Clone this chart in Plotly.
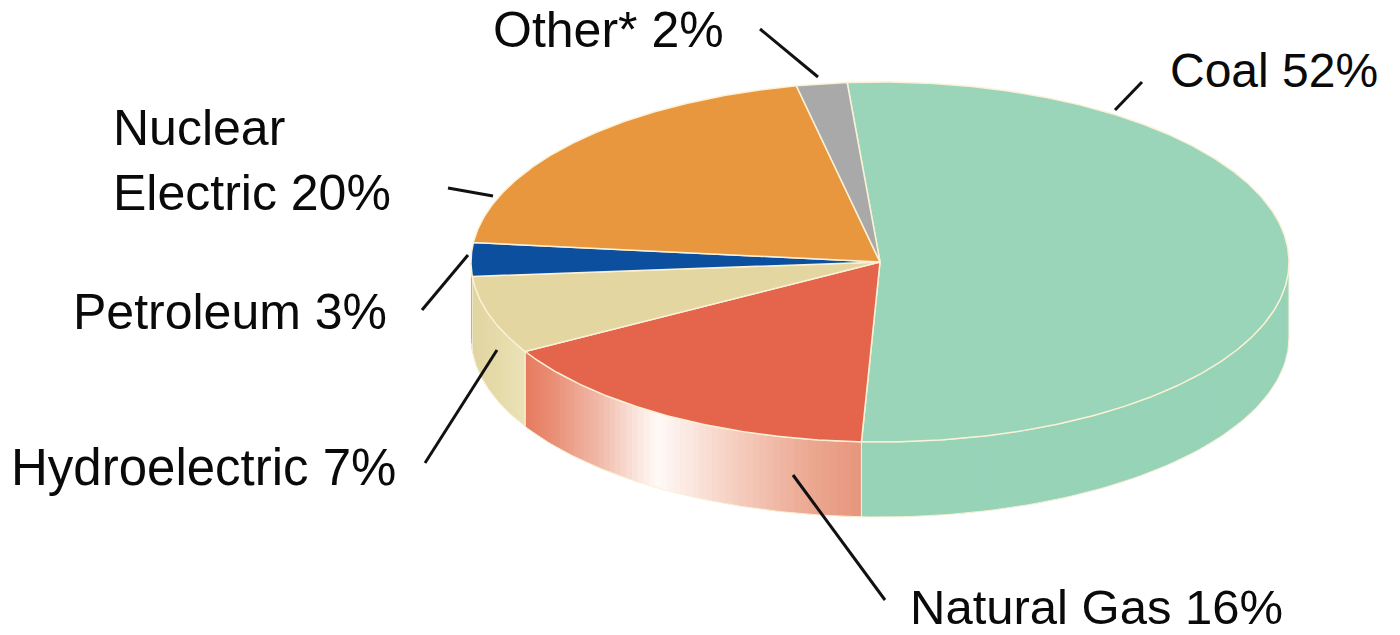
import numpy as np
import plotly.graph_objects as go

# U.S. electricity generation by energy source (percent of total)
sources = ["Coal", "Natural Gas", "Hydroelectric", "Petroleum", "Nuclear<br>Electric", "Other*"]
shares = [52, 16, 7, 3, 20, 2]
top_colors = ["#9bd5b9", "#e4654b", "#e3d6a0", "#0c4f9f", "#e9973f", "#a9a9a9"]

# side-wall shading stops (fraction along the visible wall, rgb)
side_shading = [
    [(0.0, (151, 211, 183)), (1.0, (151, 211, 183))],
    [(0.0, (230, 122, 95)), (0.12, (233, 140, 115)), (0.3, (240, 185, 168)),
     (0.48, (255, 250, 247)), (0.7, (245, 205, 190)), (0.88, (236, 168, 146)),
     (1.0, (232, 150, 126))],
    [(0.0, (224, 212, 158)), (0.7, (229, 219, 170)), (1.0, (234, 226, 184))],
    [(0.0, (12, 79, 159)), (1.0, (12, 79, 159))],
    [(0.0, (233, 151, 63)), (1.0, (233, 151, 63))],
    [(0.0, (169, 169, 169)), (1.0, (169, 169, 169))],
]

# label placement (left edge, vertical centre) and leader lines (x0, y0, x1, y1)
label_pos = [(1168, 70), (908, 607), (9, 467), (71, 312), (111, 160), (491, 30)]
label_size = [48, 49, 51, 50, 50, 50]
leaders = [(1142, 82, 1115, 110), (885, 600, 793, 475), (425, 463, 497, 350),
           (422, 310, 468, 255), (448, 188, 493, 196), (760, 29, 818, 77)]

# projected pie geometry
CX, CY, RX, RY, DEPTH = 880, 262, 409, 180, 75
START = 94.6          # angle of the first slice edge, degrees (math convention)
EDGE = "#fbf1d6"


def rim(t_deg, drop=0.0):
    t = np.radians(t_deg)
    return CX + RX * np.cos(t), CY - RY * np.sin(t) + drop


def shade(stops, f):
    for (f0, c0), (f1, c1) in zip(stops[:-1], stops[1:]):
        if f <= f1:
            k = 0 if f1 == f0 else (f - f0) / (f1 - f0)
            return "rgb(%d,%d,%d)" % tuple(round(a + (b - a) * k) for a, b in zip(c0, c1))
    return "rgb(%d,%d,%d)" % stops[-1][1]


fig = go.Figure()

bounds = START - 3.6 * np.concatenate([[0], np.cumsum(shares)])
spans = [(bounds[i + 1], bounds[i]) for i in range(len(shares))]

# side walls (front half of the disc only)
for i, (a, b) in enumerate(spans):
    for lo, hi in [(-540, -360), (-180, 0), (180, 360)]:
        s, e = max(a, lo), min(b, hi)
        if e - s <= 0.01:
            continue
        n = max(2, int((e - s) / 1.0))
        cuts = np.linspace(s, e, n + 1)
        for j in range(n):
            t0, t1 = cuts[j], cuts[j + 1]
            ts = np.linspace(max(s, t0 - 0.4), min(e, t1 + 0.4), 6)
            xt, yt = rim(ts)
            xb, yb = rim(ts[::-1], DEPTH)
            f = ((t0 + t1) / 2 - s) / (e - s)
            fig.add_trace(go.Scatter(
                x=np.concatenate([xt, xb, xt[:1]]), y=np.concatenate([yt, yb, yt[:1]]),
                mode="lines", fill="toself", fillcolor=shade(side_shading[i], f),
                line=dict(width=0), hoverinfo="skip"))
        ts = np.linspace(s, e, 80)
        xt, yt = rim(ts)
        xb, yb = rim(ts[::-1], DEPTH)
        fig.add_trace(go.Scatter(
            x=np.concatenate([xt, xb, xt[:1]]), y=np.concatenate([yt, yb, yt[:1]]),
            mode="lines", line=dict(color=EDGE, width=1), hoverinfo="skip"))

# top faces
for i, (a, b) in enumerate(spans):
    ts = np.linspace(b, a, max(4, int((b - a) * 2)))
    xs, ys = rim(ts)
    fig.add_trace(go.Scatter(
        x=np.concatenate([[CX], xs, [CX]]), y=np.concatenate([[CY], ys, [CY]]),
        mode="lines", fill="toself", fillcolor=top_colors[i],
        line=dict(color=EDGE, width=1.5), name=sources[i].replace("<br>", " "),
        hoverinfo="name"))

# labels and leader lines
for i, name in enumerate(sources):
    lx, ly = label_pos[i]
    fig.add_annotation(
        x=lx, y=ly, xref="x", yref="y", xanchor="left", yanchor="middle",
        text=f"{name} {shares[i]}%", showarrow=False, align="left",
        font=dict(family="Liberation Sans, Arial, sans-serif", size=label_size[i], color="#0a0a0a"))
    x0, y0, x1, y1 = leaders[i]
    fig.add_shape(type="line", x0=x0, y0=y0, x1=x1, y1=y1, xref="x", yref="y",
                  line=dict(color="#111111", width=3))

fig.update_layout(
    width=1400, height=635, margin=dict(l=0, r=0, t=0, b=0),
    paper_bgcolor="white", plot_bgcolor="white", showlegend=False,
    xaxis=dict(range=[0, 1400], visible=False, fixedrange=True),
    yaxis=dict(range=[635, 0], visible=False, fixedrange=True),
)

fig.write_html("out.html")
